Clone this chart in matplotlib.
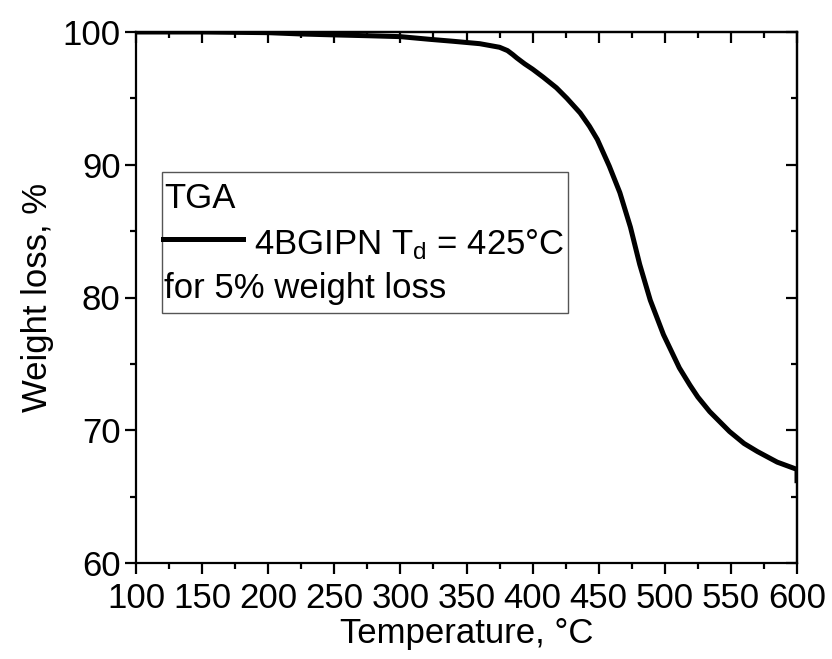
import matplotlib
matplotlib.use("Agg")
import matplotlib.pyplot as plt
from matplotlib.ticker import MultipleLocator
from matplotlib.patches import Rectangle

plt.rcParams['font.family'] = ['Liberation Sans', 'DejaVu Sans']
plt.rcParams['mathtext.default'] = 'regular'

# TGA curve
temp = [100, 150, 200, 225, 250, 275, 300, 322, 340, 360, 375, 381, 385, 388,
        394, 400, 408, 418, 426, 436, 443, 449, 458, 466, 474, 481, 489,
        499, 511, 519, 525, 534, 549, 560, 570, 585, 600, 600]
weight = [100.0, 100.0, 99.95, 99.85, 99.78, 99.72, 99.65, 99.45, 99.3, 99.12,
          98.85, 98.6, 98.3, 98.05, 97.6, 97.2, 96.6, 95.8, 95.0, 93.9,
          92.9, 91.9, 89.9, 87.9, 85.3, 82.5, 79.8, 77.2, 74.7, 73.4,
          72.5, 71.4, 69.9, 69.0, 68.4, 67.6, 67.05, 66.2]

legend_title = "TGA"
series_label = "4BGIPN T$_{d}$ = 425°C"
legend_note = "for 5% weight loss"

FS = 25

fig = plt.figure(figsize=(8.32, 6.59), dpi=100)
ax = fig.add_axes([136 / 832, 1 - 563 / 659, 661 / 832, 531 / 659])

ax.plot(temp, weight, color='black', lw=3.6, solid_joinstyle='round')

ax.set_xlim(100, 600)
ax.set_ylim(60, 100)
ax.xaxis.set_major_locator(MultipleLocator(50))
ax.xaxis.set_minor_locator(MultipleLocator(25))
ax.yaxis.set_major_locator(MultipleLocator(10))
ax.yaxis.set_minor_locator(MultipleLocator(5))

for s in ax.spines.values():
    s.set_linewidth(1.6)

ax.tick_params(which='both', bottom=True, left=True, top=False, right=False,
               direction='out', width=1.6, labelsize=FS)
ax.tick_params(which='major', length=8)
ax.tick_params(axis='x', which='major', pad=6)
ax.tick_params(axis='y', which='major', pad=3)
ax.tick_params(which='minor', length=4.5)

# top and right ticks point inward, no labels
sec_x = ax.secondary_xaxis('top')
sec_x.xaxis.set_major_locator(MultipleLocator(50))
sec_x.xaxis.set_minor_locator(MultipleLocator(25))
sec_x.tick_params(which='both', direction='in', width=1.6, labeltop=False)
sec_x.tick_params(which='major', length=8)
sec_x.tick_params(which='minor', length=4.5)
sec_x.spines['top'].set_linewidth(1.6)
sec_y = ax.secondary_yaxis('right')
sec_y.yaxis.set_major_locator(MultipleLocator(10))
sec_y.yaxis.set_minor_locator(MultipleLocator(5))
sec_y.tick_params(which='both', direction='in', width=1.6, labelright=False)
sec_y.tick_params(which='major', length=8)
sec_y.tick_params(which='minor', length=4.5)
sec_y.spines['right'].set_linewidth(1.6)

ax.set_xlabel("Temperature, °C", fontsize=FS, labelpad=1)
ax.set_ylabel("Weight loss, %", fontsize=FS, labelpad=6)

# Origin-style legend box
ax.add_patch(Rectangle((0.039, 0.471), 0.615, 0.265, transform=ax.transAxes,
                       facecolor='white', edgecolor='#555555', lw=1.0, zorder=5))
ax.text(0.042, 0.669, legend_title, transform=ax.transAxes, fontsize=FS,
        va='baseline', ha='left', zorder=6)
ax.plot([0.041, 0.162], [0.610, 0.610], transform=ax.transAxes, color='black',
        lw=3.6, zorder=6)
ax.text(0.178, 0.582, series_label, transform=ax.transAxes, fontsize=FS,
        va='baseline', ha='left', zorder=6)
ax.text(0.042, 0.499, legend_note, transform=ax.transAxes, fontsize=FS,
        va='baseline', ha='left', zorder=6)

fig.savefig("out.png", dpi=100)
